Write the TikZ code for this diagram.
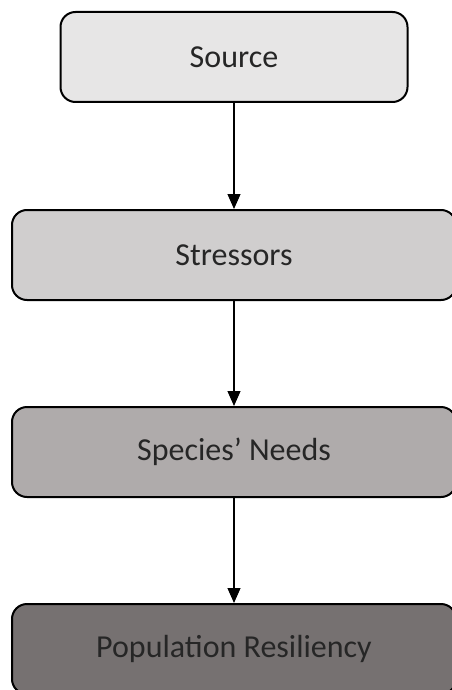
\documentclass[tikz,border=0pt]{standalone}
\usepackage{fontspec}
\setmainfont{Carlito}
\usepackage{tikz}
\usetikzlibrary{arrows.meta,positioning}

\definecolor{srcgray}{HTML}{E7E6E6}
\definecolor{strgray}{HTML}{D0CECE}
\definecolor{needgray}{HTML}{AFABAB}
\definecolor{popgray}{HTML}{767171}

\begin{document}
\begin{tikzpicture}[x=1pt, y=-1pt,
    stage/.style={rectangle, draw=black, line width=2pt, rounded corners=15pt, minimum width=444pt, minimum height=90pt, font=\fontsize{32}{38}\selectfont, text=black!85, inner sep=0pt},
    flow/.style={-{Triangle[length=15pt, width=13pt]}, line width=1.2pt, black}
]
\useasboundingbox (0,0) rectangle (451,690);

% Stages - top to bottom
\node[stage, fill=srcgray, minimum width=347pt] (source) at (234, 57) {Source};
\node[stage, fill=strgray] (stressors) at (234, 255) {Stressors};
\node[stage, fill=needgray] (needs) at (234, 452) {Species’ Needs};
\node[stage, fill=popgray] (resiliency) at (234, 649) {Population Resiliency};

% Connections
\draw[flow] (source) -- (stressors);
\draw[flow] (stressors) -- (needs);
\draw[flow] (needs) -- (resiliency);

\end{tikzpicture}
\end{document}
